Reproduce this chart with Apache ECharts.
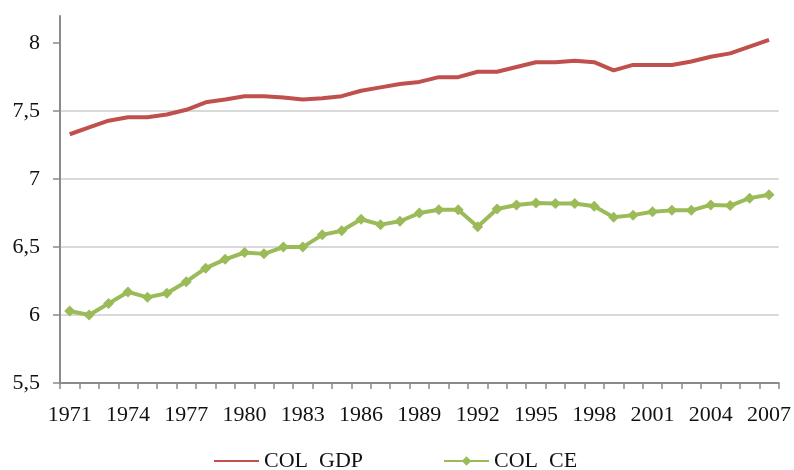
<!DOCTYPE html>
<html>
<head>
<meta charset="utf-8">
<script src="https://cdn.jsdelivr.net/npm/echarts@6/dist/echarts.min.js"></script>
<style>
  html, body { margin: 0; padding: 0; background: #ffffff; }
  #chart { width: 794px; height: 470px; }
</style>
</head>
<body>
<div id="chart"></div>
<script>
const years = ['1971','1972','1973','1974','1975','1976','1977','1978','1979','1980',
  '1981','1982','1983','1984','1985','1986','1987','1988','1989','1990',
  '1991','1992','1993','1994','1995','1996','1997','1998','1999','2000',
  '2001','2002','2003','2004','2005','2006','2007'];

const colGDP = [7.33, 7.38, 7.43, 7.455, 7.455, 7.475, 7.51, 7.565, 7.585, 7.61,
  7.61, 7.60, 7.585, 7.595, 7.61, 7.65, 7.675, 7.70, 7.715, 7.75,
  7.75, 7.79, 7.79, 7.825, 7.86, 7.86, 7.87, 7.86, 7.80, 7.84,
  7.84, 7.84, 7.865, 7.90, 7.925, 7.975, 8.025];

const colCE = [6.03, 6.00, 6.085, 6.17, 6.13, 6.16, 6.245, 6.345, 6.41, 6.46,
  6.45, 6.50, 6.50, 6.59, 6.62, 6.705, 6.665, 6.69, 6.75, 6.775,
  6.775, 6.65, 6.78, 6.81, 6.825, 6.82, 6.82, 6.80, 6.72, 6.735,
  6.76, 6.77, 6.77, 6.81, 6.805, 6.86, 6.885];

const yTicks = [5.5, 6, 6.5, 7, 7.5, 8];
const seriesNames = ['COL  GDP', 'COL  CE'];

const FONT = "'Liberation Serif', 'Times New Roman', serif";
const chart = echarts.init(document.getElementById('chart'), null, { renderer: 'canvas' });

chart.setOption({
  backgroundColor: '#ffffff',
  animation: false,
  grid: { left: 60, right: 13, top: 16, bottom: 87, containLabel: false },
  legend: {
    left: 208,
    top: 445,
    itemWidth: 45,
    itemHeight: 12,
    itemGap: 80,
    textStyle: { fontFamily: FONT, fontSize: 22, color: '#111111' },
    data: [
      { name: seriesNames[0], itemStyle: { color: 'rgba(0,0,0,0)', borderWidth: 0 } },
      { name: seriesNames[1] }
    ]
  },
  xAxis: {
    type: 'category',
    data: years,
    boundaryGap: true,
    axisLine: { lineStyle: { color: '#8a8a8a', width: 2 } },
    axisTick: { show: true, interval: 0, length: 6, lineStyle: { color: '#8a8a8a', width: 1.5 } },
    axisLabel: { interval: 2, margin: 21, fontFamily: FONT, fontSize: 22, color: '#111111' },
    splitLine: { show: false }
  },
  yAxis: {
    type: 'value',
    min: 5.5,
    max: 8.2,
    interval: 0.5,
    axisLine: { show: true, lineStyle: { color: '#8a8a8a', width: 2 } },
    axisTick: { show: true, length: 7, customValues: yTicks, lineStyle: { color: '#8a8a8a', width: 1.5 } },
    axisLabel: {
      margin: 20, customValues: yTicks,
      fontFamily: FONT, fontSize: 22, color: '#111111',
      formatter: v => String(v).replace('.', ',')
    },
    splitLine: {
      show: true, showMaxLine: false,
      lineStyle: { color: '#d9d9d9', width: 2 }
    }
  },
  series: [
    {
      name: seriesNames[0],
      type: 'line',
      data: colGDP,
      symbol: 'none',
      lineStyle: { color: '#c0504d', width: 4 },
      itemStyle: { color: '#c0504d' }
    },
    {
      name: seriesNames[1],
      type: 'line',
      data: colCE,
      symbol: 'diamond',
      symbolSize: 11,
      lineStyle: { color: '#9bbb59', width: 4 },
      itemStyle: { color: '#9bbb59' }
    }
  ]
});
</script>
</body>
</html>
